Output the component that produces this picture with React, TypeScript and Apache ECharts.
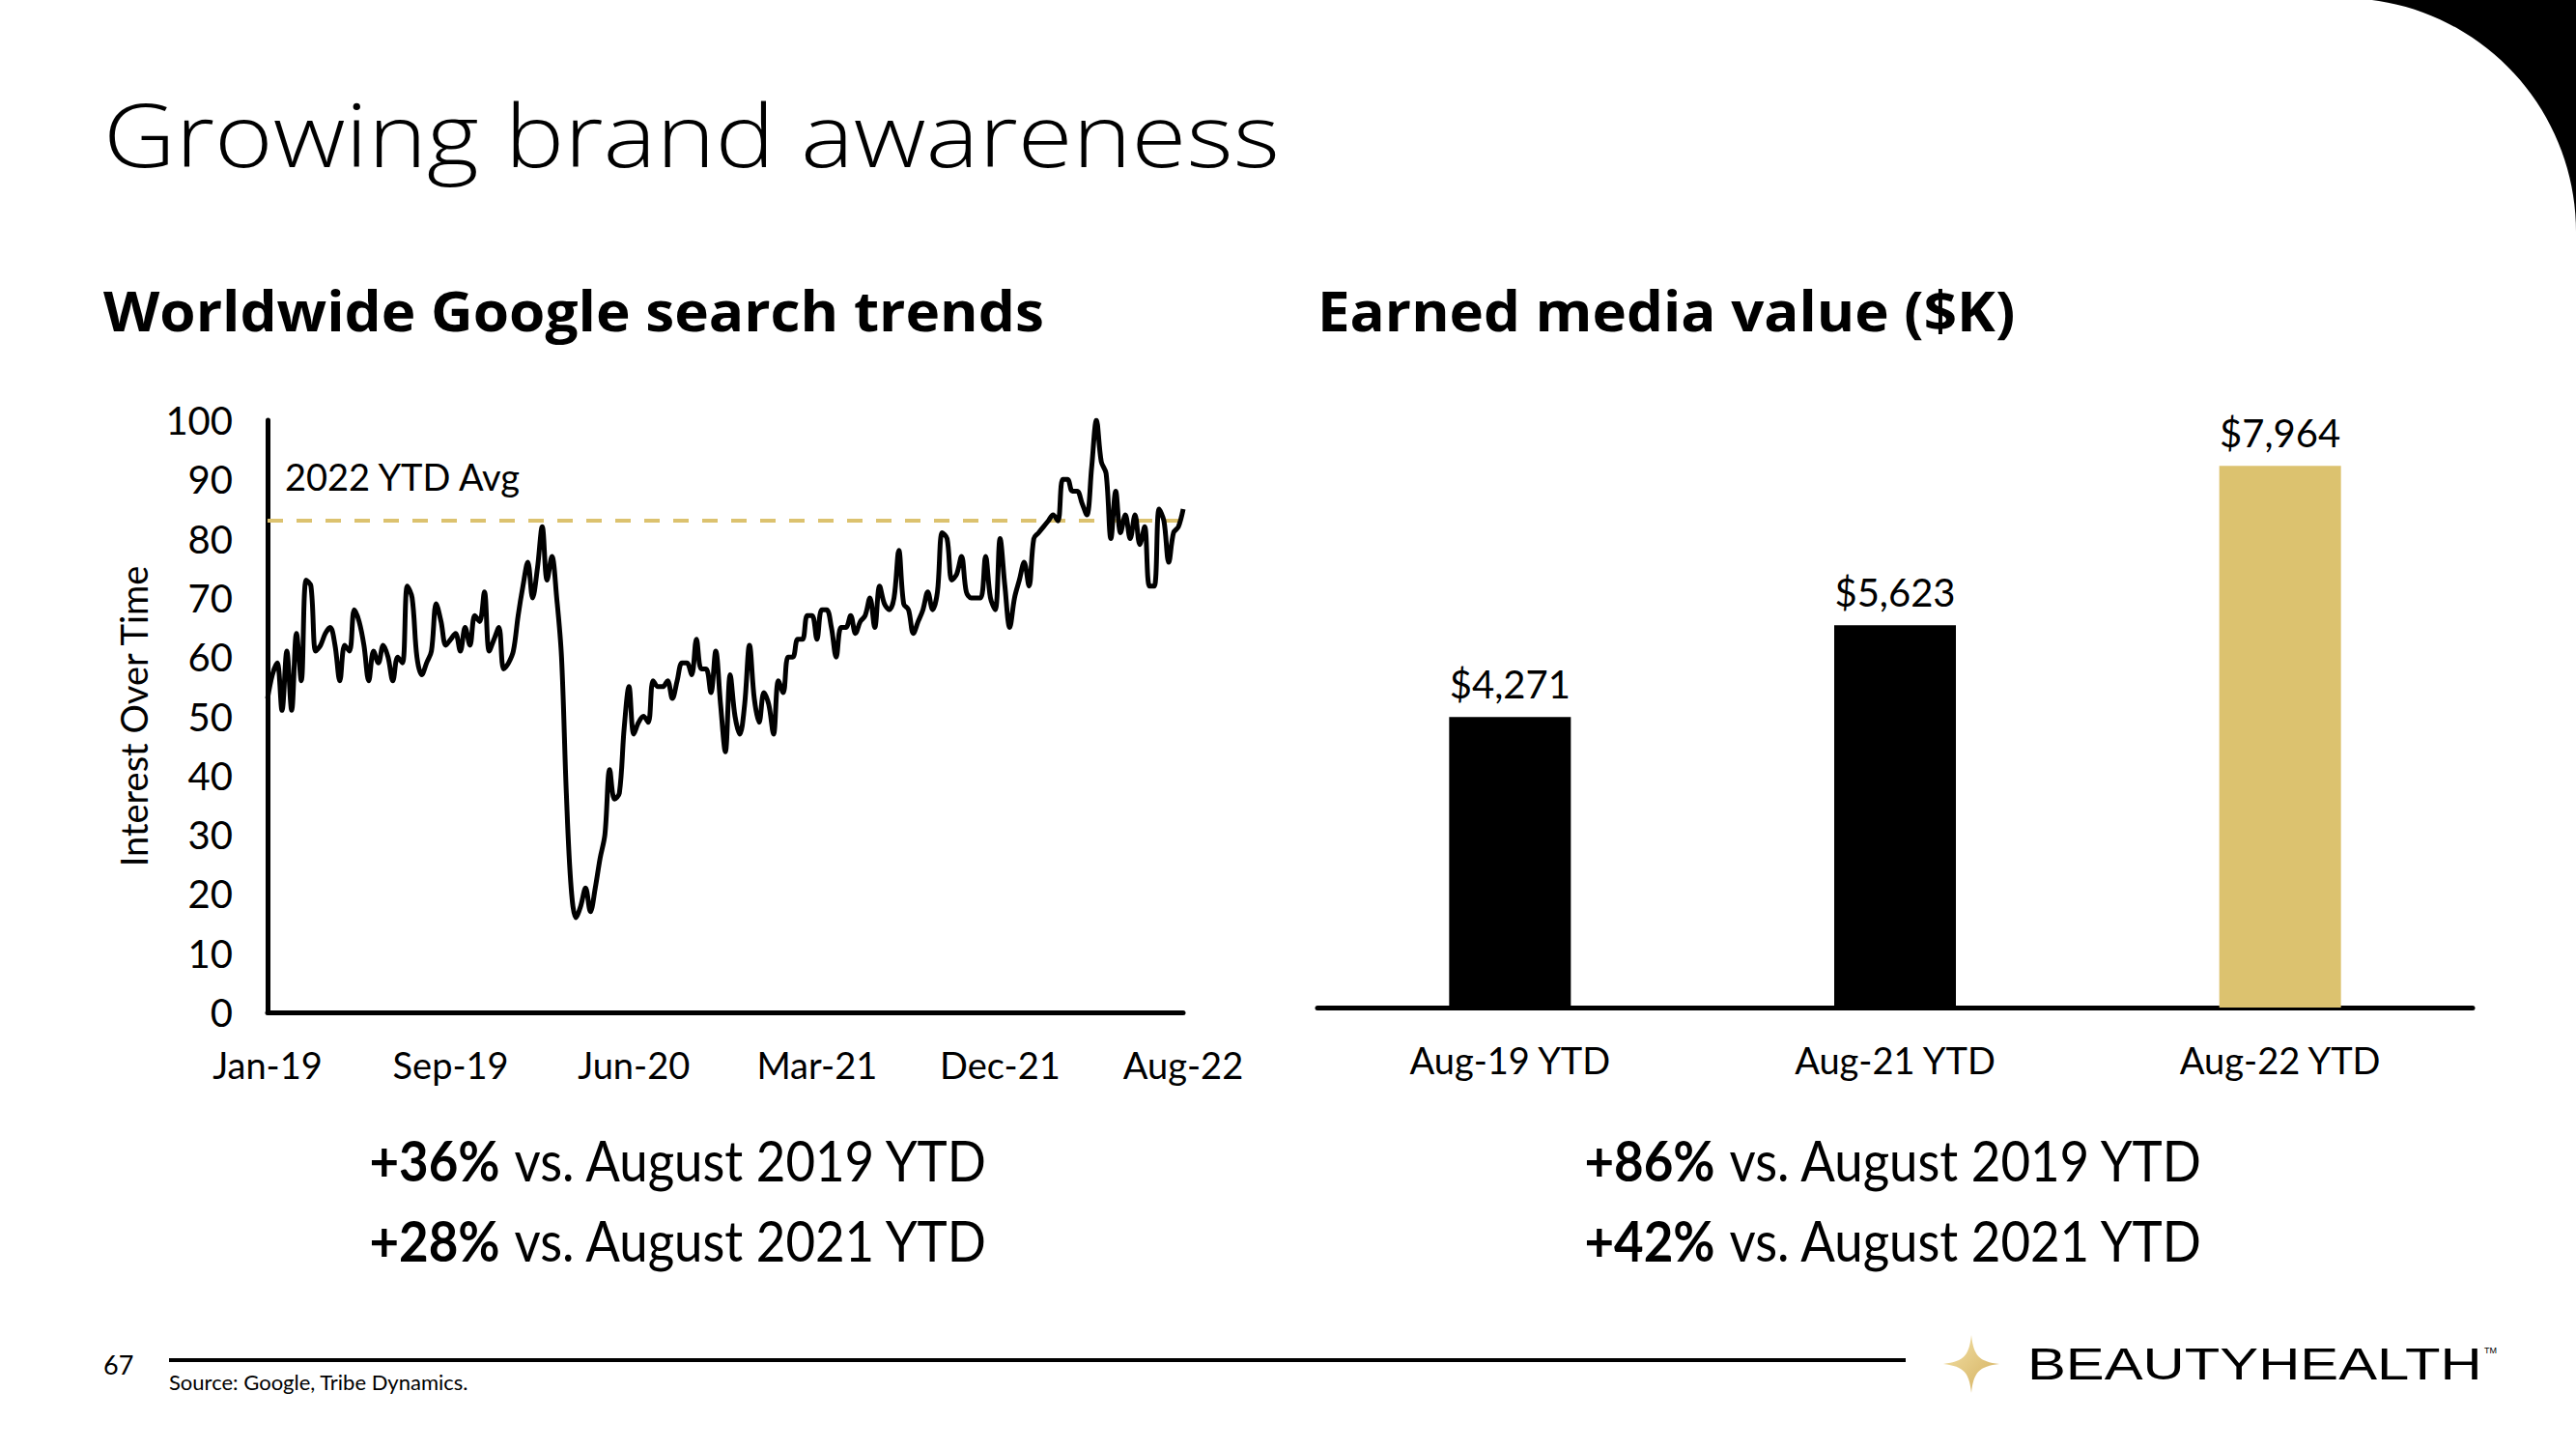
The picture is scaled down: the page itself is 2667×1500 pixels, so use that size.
import React, { useEffect, useRef } from "react";
import * as echarts from "echarts";

// ---------- DATA ----------
const searchStart = [2019, 0, 6]; // first weekly point (Jan-19)
const searchValues = [
  53, 57, 59, 51, 61, 51, 64, 56, 73, 72, 61, 62, 64, 65, 62, 56, 62, 61, 68, 66,
  62, 56, 61, 59, 62, 60, 56, 60, 59, 72, 70, 60, 57, 59, 61, 69, 66, 62, 63, 64,
  61, 65, 62, 67, 66, 71, 61, 63, 65, 58, 59, 61, 67, 72, 76, 70, 75, 82, 73, 77,
  70, 60, 37, 21, 16, 18, 21, 17, 21, 26, 30, 41, 36, 37, 48, 55, 47, 49, 50, 49,
  56, 55, 55, 56, 53, 56, 59, 59, 57, 63, 58, 58, 54, 61, 52, 44, 57, 50, 47, 52,
  62, 53, 49, 54, 52, 47, 56, 54, 60, 60, 63, 63, 67, 67, 63, 68, 68, 65, 60, 65,
  65, 67, 64, 66, 67, 70, 65, 72, 69, 68, 70, 78, 69, 68, 64, 66, 68, 71, 68, 71,
  81, 80, 73, 74, 77, 71, 70, 70, 70, 77, 70, 68, 80, 72, 65, 70, 73, 76, 72, 80,
  81, 82, 83, 84, 83, 90, 90, 88, 88, 86, 84, 92, 100, 93, 91, 80, 88, 81, 84, 80,
  84, 79, 82, 72, 72, 85, 83, 76, 81, 82, 85,
];
const ytdAvg2022 = 83;
const yTicks = { min: 0, max: 100, interval: 10 };
const monthNames = ["Jan", "Feb", "Mar", "Apr", "May", "Jun", "Jul", "Aug", "Sep", "Oct", "Nov", "Dec"];

const emvCategories = ["Aug-19 YTD", "Aug-21 YTD", "Aug-22 YTD"];
const emvValues = [4271, 5623, 7964];

const statsLeft = [
  ["+36%", " vs. August 2019 YTD"],
  ["+28%", " vs. August 2021 YTD"],
];
const statsRight = [
  ["+86%", " vs. August 2019 YTD"],
  ["+42%", " vs. August 2021 YTD"],
];

// ---------- STYLE ----------
const GOLD = "#DCC26F";
const FONT = "Lato";

function weekLabels(): string[] {
  const out: string[] = [];
  const d0 = new Date(searchStart[0], searchStart[1], searchStart[2]);
  for (let i = 0; i < searchValues.length; i++) {
    const d = new Date(d0.getTime() + i * 7 * 86400000);
    out.push(monthNames[d.getMonth()] + "-" + String(d.getFullYear()).slice(2));
  }
  return out;
}

function cornerPolygon(): number[][] {
  const cx = 2425, cy = 240, r = 242;
  const pts: number[][] = [[2667, 0]];
  for (let k = 0; k <= 40; k++) {
    const a = (k / 40) * (Math.PI / 2);
    pts.push([cx + r * Math.cos(a), cy - r * Math.sin(a)]);
  }
  return pts;
}

export default function App() {
  const ref = useRef<HTMLDivElement>(null);

  useEffect(() => {
    document.body.style.margin = "0";
    document.body.style.overflow = "hidden";
    try {
      echarts.graphic.registerShape(
        "star4",
        echarts.graphic.extendPath(
          "M50 0 C54 36 64 46 100 50 C64 54 54 64 50 100 C46 64 36 54 0 50 C36 46 46 36 50 0 Z",
          {}
        )
      );
    } catch (e) {}

    const chart = echarts.init(ref.current!, null, { renderer: "svg" });
    const labels = weekLabels();

    const txt = (text: string, x: number, y: number, size: number, opts: any = {}) => ({
      type: "text",
      x,
      y,
      style: {
        text,
        fontSize: size,
        fontFamily: opts.family || FONT,
        fontWeight: opts.weight || "normal",
        fill: opts.fill || "#000",
        textAlign: opts.align || "left",
        align: opts.align || "left",
        textVerticalAlign: "middle",
        verticalAlign: "middle",
        rich: opts.rich,
      },
      scaleX: opts.scaleX || 1,
    });

    const statRich = {
      b: { fontSize: 58, fontFamily: FONT, fontWeight: "bold", fill: "#000" },
      n: { fontSize: 58, fontFamily: FONT, fontWeight: "normal", fill: "#000" },
    };

    const option: any = {
      animation: false,
      backgroundColor: "#fff",
      grid: [
        { left: 277, top: 435, width: 948, height: 613 },
        { left: 1364, top: 339, width: 1196, height: 704 },
      ],
      xAxis: [
        {
          gridIndex: 0,
          type: "category",
          data: labels,
          boundaryGap: false,
          axisLine: { lineStyle: { color: "#000", width: 5 } },
          axisTick: { show: false },
          axisLabel: {
            interval: 37,
            fontSize: 38,
            fontFamily: FONT,
            color: "#000",
            margin: 35,
          },
          splitLine: { show: false },
        },
        {
          gridIndex: 1,
          type: "category",
          data: emvCategories,
          axisLine: { lineStyle: { color: "#000", width: 5 } },
          axisTick: { show: false },
          axisLabel: { fontSize: 38, fontFamily: FONT, color: "#000", margin: 35 },
        },
      ],
      yAxis: [
        {
          gridIndex: 0,
          type: "value",
          min: yTicks.min,
          max: yTicks.max,
          interval: yTicks.interval,
          axisLine: { show: true, lineStyle: { color: "#000", width: 5 } },
          axisTick: { show: false },
          axisLabel: { fontSize: 40, fontFamily: FONT, color: "#000", margin: 36 },
          splitLine: { show: false },
          name: "Interest Over Time",
          nameLocation: "middle",
          nameRotate: 90,
          nameGap: 120,
          nameTextStyle: { fontSize: 38, fontFamily: FONT, color: "#000" },
        },
        {
          gridIndex: 1,
          type: "value",
          min: 0,
          max: 10000,
          show: false,
        },
      ],
      series: [
        {
          type: "line",
          xAxisIndex: 0,
          yAxisIndex: 0,
          data: searchValues,
          smooth: 0.35,
          symbol: "none",
          lineStyle: { color: "#000", width: 5 },
          z: 3,
          markLine: {
            silent: true,
            symbol: "none",
            label: { show: false },
            lineStyle: { color: GOLD, width: 4, type: [16, 14] },
            data: [{ yAxis: ytdAvg2022 }],
            z: 2,
          },
        },
        {
          type: "bar",
          xAxisIndex: 1,
          yAxisIndex: 1,
          barWidth: 126,
          data: emvValues.map((v, i) => ({
            value: v,
            itemStyle: { color: i === emvValues.length - 1 ? GOLD : "#000" },
          })),
          label: {
            show: true,
            position: "top",
            distance: 14,
            fontSize: 40,
            fontFamily: FONT,
            color: "#000",
            formatter: (p: any) => "$" + Number(p.value).toLocaleString("en-US"),
          },
        },
      ],
      graphic: {
        elements: [
          { type: "polygon", shape: { points: cornerPolygon() }, style: { fill: "#000" } },
          txt("Growing brand awareness", 107, 138, 90, { weight: 300, family: "Open Sans", scaleX: 1.15 }),
          txt("Worldwide Google search trends", 107, 320, 58, { weight: "bold", family: "Open Sans", scaleX: 1.04 }),
          txt("Earned media value ($K)", 1364, 320, 58, { weight: "bold", family: "Open Sans", scaleX: 1.035 }),
          txt("2022 YTD Avg", 295, 493, 38),
          txt(`{b|${statsLeft[0][0]}}{n|${statsLeft[0][1]}}`, 703, 1201, 58, { align: "center", rich: statRich, scaleX: 0.91 }),
          txt(`{b|${statsLeft[1][0]}}{n|${statsLeft[1][1]}}`, 703, 1284, 58, { align: "center", rich: statRich, scaleX: 0.91 }),
          txt(`{b|${statsRight[0][0]}}{n|${statsRight[0][1]}}`, 1961, 1201, 58, { align: "center", rich: statRich, scaleX: 0.91 }),
          txt(`{b|${statsRight[1][0]}}{n|${statsRight[1][1]}}`, 1961, 1284, 58, { align: "center", rich: statRich, scaleX: 0.91 }),
          {
            type: "line",
            shape: { x1: 175, y1: 1408, x2: 1973, y2: 1408 },
            style: { stroke: "#000", lineWidth: 4 },
          },
          txt("67", 107, 1412, 27),
          txt("Source: Google, Tribe Dynamics.", 175, 1430, 22),
          {
            type: "star4",
            x: 2012,
            y: 1382,
            scaleX: 0.58,
            scaleY: 0.6,
            style: {
              fill: new echarts.graphic.LinearGradient(0, 0, 1, 1, [
                { offset: 0, color: "#F4E2A8" },
                { offset: 1, color: "#D2AE5C" },
              ]),
            },
          },
          txt("BEAUTYHEALTH", 2099, 1412, 46, { family: "Liberation Sans", scaleX: 1.3 }),
          txt("TM", 2572, 1398, 9, { family: "Liberation Sans" }),
        ],
      },
    };

    chart.setOption(option);
    return () => chart.dispose();
  }, []);

  return <div ref={ref} style={{ width: 2667, height: 1500 }} />;
}
